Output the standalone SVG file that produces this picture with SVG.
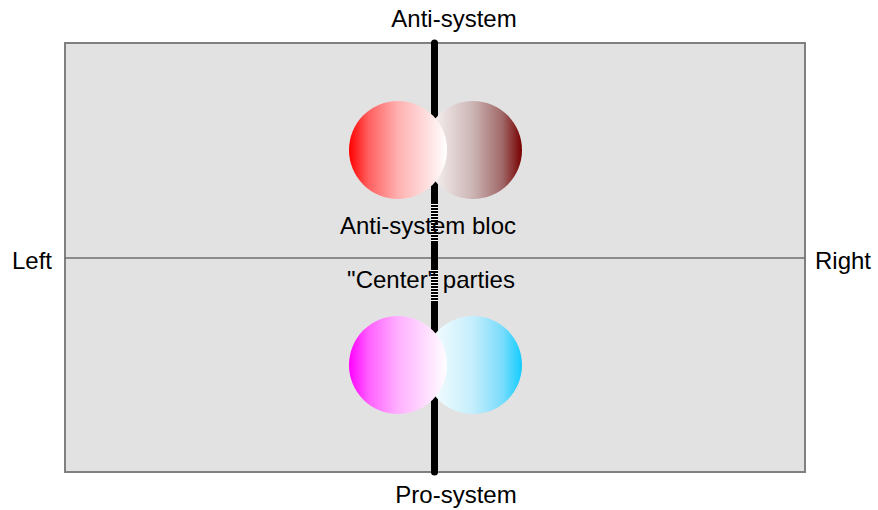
<svg xmlns="http://www.w3.org/2000/svg" width="878" height="510" viewBox="0 0 878 510">
<style>
text{font-family:"Liberation Sans",Arial,sans-serif;font-size:24px;fill:#000}
.mid{text-anchor:middle}
</style>
<defs>
<linearGradient id="gRed" x1="0" y1="0" x2="1" y2="0"><stop offset="0" stop-color="#ff0000"/><stop offset="0.2" stop-color="#ff6060"/><stop offset="0.5" stop-color="#ffb0b0"/><stop offset="1" stop-color="#ffffff"/></linearGradient>
<linearGradient id="gDark" x1="0" y1="0" x2="1" y2="0"><stop offset="0" stop-color="#ffffff"/><stop offset="0.5" stop-color="#ccb4b4"/><stop offset="0.8" stop-color="#a06868"/><stop offset="1" stop-color="#780000"/></linearGradient>
<linearGradient id="gMag" x1="0" y1="0" x2="1" y2="0"><stop offset="0" stop-color="#ff00ff"/><stop offset="0.2" stop-color="#ff60ff"/><stop offset="0.5" stop-color="#ffb0ff"/><stop offset="1" stop-color="#ffffff"/></linearGradient>
<linearGradient id="gCyan" x1="0" y1="0" x2="1" y2="0"><stop offset="0" stop-color="#ffffff"/><stop offset="0.5" stop-color="#c4eefc"/><stop offset="0.8" stop-color="#7adcfc"/><stop offset="1" stop-color="#12ccff"/></linearGradient>
</defs>
<g id="frame">
<rect x="65" y="43" width="740" height="429" fill="#e2e2e2" stroke="#808080" stroke-width="2"/>
</g>
<g id="connectors">
<line x1="65" y1="258" x2="805" y2="258" stroke="#6e6e6e" stroke-width="1.5"/>
<line x1="434.5" y1="43" x2="434.5" y2="472" stroke="#000" stroke-width="7" stroke-linecap="round"/>
<line x1="434.5" y1="204" x2="434.5" y2="243" stroke="#fff" stroke-width="7" stroke-dasharray="1 2"/>
<line x1="434.5" y1="270" x2="434.5" y2="302" stroke="#fff" stroke-width="7" stroke-dasharray="1 2"/>
</g>
<g id="anti-right"><circle cx="473" cy="150" r="49" fill="url(#gDark)"/></g>
<g id="anti-left"><circle cx="398" cy="150" r="49" fill="url(#gRed)"/></g>
<g id="pro-right"><circle cx="473" cy="365" r="49" fill="url(#gCyan)"/></g>
<g id="pro-left"><circle cx="398" cy="365" r="49" fill="url(#gMag)"/></g>
<g id="labels">
<text class="mid" x="454" y="27">Anti-system</text>
<text class="mid" x="456" y="503">Pro-system</text>
<text x="12" y="269">Left</text>
<text x="815" y="269">Right</text>
<text class="mid" x="428" y="234">Anti-system bloc</text>
<text class="mid" x="431" y="288">"Center" parties</text>
</g>
</svg>
